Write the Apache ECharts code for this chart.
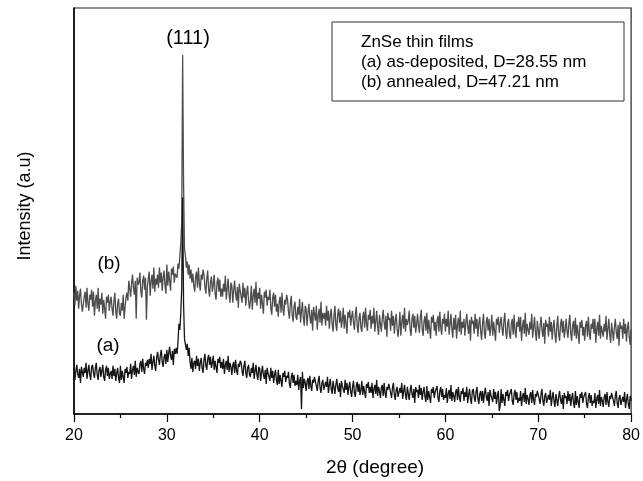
<!DOCTYPE html>
<html>
<head>
<meta charset="utf-8">
<script src="https://cdn.jsdelivr.net/npm/echarts@6/dist/echarts.min.js"></script>
<style>
html,body{margin:0;padding:0;background:#fff;}
#chart{width:643px;height:481px;}
</style>
</head>
<body>
<div id="chart"></div>
<script>
// 2θ sampling grid (instrument start / step), degrees
const twoThetaStart = 20;
const twoThetaStep = 0.1;
const xTicks = [20, 30, 40, 50, 60, 70, 80];

// (b) annealed — intensity (a.u.), one row per degree (20.0 ... 79.9), then 80.0
const annealed = [
121,108,128,113,123,105,118,125,110,102,
102,117,122,106,126,110,103,119,114,124,
107,122,98,112,119,105,126,102,115,109,
121,100,114,105,95,117,111,119,103,112,
117,105,98,113,121,102,95,110,115,100,
98,111,103,119,95,106,116,121,113,133,
134,117,130,139,126,119,133,95,136,129,
131,141,122,116,133,138,124,136,94,127,
127,142,118,132,139,125,146,122,135,129,
139,126,146,131,141,123,136,143,128,120,
149,128,142,133,123,145,139,147,131,140,
141,136,150,145,158,170,190,358,230,165,
158,146,152,139,149,135,144,131,140,128,
122,137,142,126,146,130,123,139,134,144,
139,127,120,135,143,124,117,132,137,122,
129,139,120,114,131,136,122,134,117,125,
117,130,122,138,114,125,135,119,111,131,
128,111,124,133,120,113,127,106,130,123,
124,111,131,116,126,108,121,128,113,105,
113,128,104,118,125,111,132,108,121,115,
126,105,119,110,100,122,116,124,108,117,
114,124,105,99,116,121,107,119,102,110,
97,112,117,101,121,105,98,114,109,119,
114,102,95,110,118,99,92,107,112,97,
94,107,99,115,91,102,112,96,88,108,
105,88,101,110,97,90,104,83,107,100,
93,108,84,98,105,91,112,88,101,95,
101,88,108,93,103,85,98,105,90,82,
98,108,89,83,100,105,91,103,86,94,
106,85,99,90,80,102,96,104,88,97,
103,91,84,99,107,88,81,96,101,86,
82,97,102,86,106,90,83,99,94,104,
85,98,90,106,82,93,103,87,79,99,
99,82,95,104,91,84,98,77,101,94,
96,83,103,88,98,80,93,100,85,77,
87,102,78,92,99,85,106,82,95,89,
93,103,84,78,95,100,86,98,81,89,
100,88,81,96,104,85,78,93,98,83,
101,80,94,85,75,97,91,99,83,92,
78,93,98,82,102,86,79,95,90,100,
82,95,87,103,79,90,100,84,76,96,
84,99,75,89,96,82,103,79,92,86,
95,78,91,100,87,80,94,73,97,90,
93,80,100,85,95,77,90,97,82,74,
90,100,81,75,92,97,83,95,78,86,
99,78,92,83,73,95,89,97,81,90,
97,85,78,93,101,82,75,90,95,80,
75,90,95,79,99,83,76,92,87,97,
82,97,73,87,94,80,101,77,90,84,
79,92,84,100,76,87,97,81,73,93,
92,75,88,97,84,77,91,70,94,87,
90,77,97,82,92,74,87,94,79,71,
88,98,79,73,90,95,81,93,76,84,
95,83,76,91,99,80,73,88,93,78,
96,75,89,80,70,92,86,94,78,87,
73,88,93,77,97,81,74,90,85,95,
80,95,71,85,92,78,99,75,88,82,
77,90,82,98,74,85,95,79,71,91,
90,73,86,95,82,75,89,68,92,85,
88,75,95,80,90,72,85,92,77,69,
84
];

// (a) as-deposited — intensity (a.u.), one row per degree (20.0 ... 79.9), then 80.0
const asDeposited = [
46,34,43,49,40,36,45,31,47,42,
37,46,41,51,35,43,49,39,34,47,
49,41,36,46,51,39,34,44,47,37,
43,49,37,33,44,48,38,46,35,40,
43,35,48,38,45,33,41,46,36,31,
48,34,43,37,31,45,41,47,36,42,
40,50,35,44,48,39,53,37,46,42,
40,50,53,42,55,45,40,51,48,54,
46,55,50,60,44,52,58,48,43,56,
62,54,49,59,64,52,47,57,60,50,
64,52,61,67,58,54,63,49,65,60,
66,60,72,90,84,100,125,216,110,75,
74,64,70,58,66,52,45,56,42,51,
53,45,58,48,55,43,51,56,46,41,
54,60,48,44,55,59,49,57,46,51,
58,44,53,47,41,55,51,57,46,52,
45,55,40,49,53,44,58,42,51,47,
39,49,52,41,54,44,39,50,47,53,
51,43,38,48,53,41,36,46,49,39,
37,46,41,51,35,43,49,39,34,47,
45,33,42,48,39,35,44,30,46,41,
41,33,46,36,43,31,39,44,34,29,
44,30,39,33,27,41,37,43,32,38,
36,42,30,26,37,41,31,39,28,33,
29,39,24,33,37,5,42,26,35,31,
23,33,36,25,38,28,23,34,31,37,
36,28,23,33,38,26,21,31,34,24,
23,32,27,37,21,29,35,25,20,33,
32,20,29,35,26,22,31,17,33,28,
29,21,34,24,31,19,27,32,22,17,
27,33,21,17,28,32,22,30,19,24,
33,19,28,22,16,30,26,32,21,27,
21,31,16,25,29,20,34,18,27,23,
16,26,29,18,31,21,16,27,24,30,
29,21,16,26,31,19,14,24,27,17,
17,26,21,31,15,23,29,19,14,27,
26,14,23,29,20,16,25,11,27,22,
24,16,29,19,26,14,22,27,17,12,
28,14,23,17,11,25,21,27,16,22,
22,28,16,12,23,27,17,25,14,19,
16,26,11,20,24,15,29,13,22,18,
12,22,25,14,27,17,12,23,20,26,
13,22,17,27,11,19,25,15,10,23,
25,17,12,22,27,15,10,20,23,13,
23,11,20,26,17,13,22,8,24,19,
20,12,25,15,22,10,18,23,3,8,
25,11,20,14,8,22,18,24,13,19,
19,25,13,9,20,24,14,22,11,16,
13,23,8,17,21,12,26,10,19,15,
9,19,22,11,24,14,9,20,17,23,
23,15,10,20,25,13,8,18,21,11,
10,19,14,24,8,16,22,12,7,20,
20,8,17,23,14,10,19,5,21,16,
18,10,23,13,20,8,16,21,11,6,
23,9,18,12,6,20,16,22,11,17,
16,22,10,6,17,21,11,19,8,13,
11,21,6,15,19,10,24,8,17,13,
7,17,20,9,22,12,7,18,15,21,
21,13,8,18,23,11,6,16,19,9,
8,17,12,22,6,14,20,10,5,18,
13
];

function buildSeries(values) {
  return values.map((v, i) => [+(twoThetaStart + i * twoThetaStep).toFixed(2), v]);
}

const FONT = '"Liberation Sans", Arial, sans-serif';
const chart = echarts.init(document.getElementById('chart'), null, {renderer: 'canvas'});

chart.setOption({
  animation: false,
  backgroundColor: '#fff',
  grid: {left: 74, right: 5, top: 8, bottom: 67, show: true, borderColor: '#222', borderWidth: 1.2, backgroundColor: 'transparent'},
  xAxis: {
    type: 'value', min: xTicks[0], max: xTicks[xTicks.length - 1], interval: 10,
    axisLine: {show: true, onZero: false, lineStyle: {color: '#000', width: 1.5}},
    axisTick: {show: true, inside: false, length: 8, lineStyle: {color: '#000', width: 1.2}},
    minorTick: {show: true, splitNumber: 2, length: 4, lineStyle: {color: '#000', width: 1.2}},
    axisLabel: {color: '#000', fontSize: 16, fontFamily: FONT, margin: 14},
    splitLine: {show: false}
  },
  yAxis: {
    type: 'value', min: 0, max: 405,
    axisLine: {show: true, lineStyle: {color: '#000', width: 1.5}},
    axisTick: {show: false}, axisLabel: {show: false}, splitLine: {show: false}
  },
  series: [
    {name: '(b) annealed', type: 'line', data: buildSeries(annealed),
     showSymbol: false, lineStyle: {color: '#4d4d4d', width: 1.3}, z: 2},
    {name: '(a) as-deposited', type: 'line', data: buildSeries(asDeposited),
     showSymbol: false, lineStyle: {color: '#151515', width: 1.3}, z: 3}
  ],
  graphic: [
    {type: 'rect', shape: {x: 332, y: 22, width: 292, height: 79}, style: {fill: '#fff', stroke: '#333', lineWidth: 1}, z: 10},
    {type: 'text', x: 361, y: 42, style: {text: 'ZnSe thin films', font: '17px ' + FONT, fill: '#000', verticalAlign: 'middle'}, z: 11},
    {type: 'text', x: 361, y: 62, style: {text: '(a) as-deposited, D=28.55 nm', font: '17px ' + FONT, fill: '#000', verticalAlign: 'middle'}, z: 11},
    {type: 'text', x: 361, y: 82, style: {text: '(b) annealed, D=47.21 nm', font: '17px ' + FONT, fill: '#000', verticalAlign: 'middle'}, z: 11},
    {type: 'text', x: 188, y: 38, style: {text: '(111)', font: '20px ' + FONT, fill: '#000', align: 'center', verticalAlign: 'middle'}, z: 11},
    {type: 'text', x: 109, y: 264, style: {text: '(b)', font: '19px ' + FONT, fill: '#000', align: 'center', verticalAlign: 'middle'}, z: 11},
    {type: 'text', x: 108, y: 346, style: {text: '(a)', font: '19px ' + FONT, fill: '#000', align: 'center', verticalAlign: 'middle'}, z: 11},
    {type: 'text', x: 375, y: 468, style: {text: '2θ (degree)', font: '19px ' + FONT, fill: '#000', align: 'center', verticalAlign: 'middle'}, z: 11},
    {type: 'text', x: 25, y: 206, rotation: Math.PI / 2, style: {text: 'Intensity (a.u)', font: '18px ' + FONT, fill: '#000', align: 'center', verticalAlign: 'middle'}, z: 11}
  ]
});
</script>
</body>
</html>
